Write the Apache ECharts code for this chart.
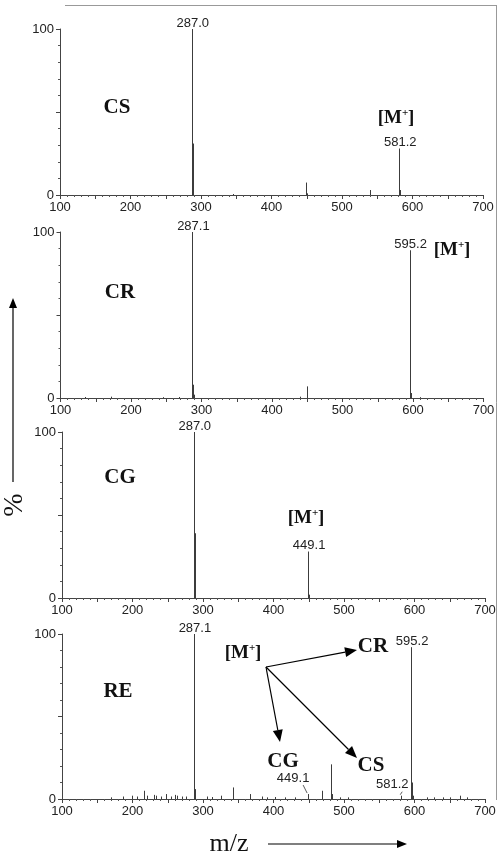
<!DOCTYPE html>
<html>
<head>
<meta charset="utf-8">
<script src="https://cdn.jsdelivr.net/npm/echarts@6/dist/echarts.min.js"></script>
<style>
  html, body { margin: 0; padding: 0; background: #fff; }
  #main { width: 502px; height: 854px; }
</style>
</head>
<body>
<div id="main"></div>
<script>
// peak lists (m/z, relative intensity %)
const csMz  = [287.0, 288.0, 289.0, 345.0, 449.1, 450.1, 539.2, 581.2, 582.2];
const csInt = [100, 31, 2, 0.6, 7.5, 1.0, 3.0, 28, 3.0];

const crMz  = [135.0, 172.0, 245.0, 268.0, 287.1, 288.1, 289.1, 440.0, 449.1, 450.1, 595.2, 596.2, 597.2, 610.0];
const crInt = [0.6, 0.8, 0.5, 0.6, 100, 8, 2, 0.8, 7, 1.2, 89, 13, 3, 0.5];

const cgMz  = [287.0, 288.0, 449.1, 450.1];
const cgInt = [100, 39, 28, 2];

const reMz  = [169.0, 187.0, 199.0, 207.0, 216.1, 221.0, 230.0, 233.0, 240.0, 248.1, 254.0, 260.0, 263.0,
               270.0, 276.0, 287.1, 288.1, 305.0, 313.0, 325.0, 343.1, 367.1, 383.0, 391.0, 402.0, 416.0,
               430.0, 449.1, 469.1, 481.1, 483.1, 495.0, 505.0, 581.2, 595.2, 596.2, 597.2, 618.0, 628.0,
               640.0, 650.0, 665.2, 675.0];
const reInt = [1.0, 1.5, 2.0, 1.5, 5.0, 2.0, 2.5, 2.0, 1.5, 3.0, 1.5, 2.5, 2.0,
               1.5, 1.5, 100, 6, 1.5, 1.2, 2.0, 7.0, 3.0, 1.5, 1.0, 1.2, 1.0,
               1.0, 3.0, 5.0, 21, 3.0, 1.0, 1.0, 2.0, 92, 10, 2.0, 1.0, 1.0,
               1.0, 1.0, 2.0, 1.0];

// which peaks carry an m/z label
const csLabelMz = [287.0, 581.2];
const crLabelMz = [287.1, 595.2];
const cgLabelMz = [287.0, 449.1];
const reLabelMz = [287.1, 449.1, 581.2, 595.2];

const xTickLabels = [100, 200, 300, 400, 500, 600, 700];
const yTickLabels = [0, 100];

const panelNames = ['CS', 'CR', 'CG', 'RE'];
const panelData = [
  { mz: csMz, inten: csInt, labels: csLabelMz },
  { mz: crMz, inten: crInt, labels: crLabelMz },
  { mz: cgMz, inten: cgInt, labels: cgLabelMz },
  { mz: reMz, inten: reInt, labels: reLabelMz }
];

// layout
const grids = [
  { left: 60,   top: 29,  width: 423, height: 166 },
  { left: 60.5, top: 232, width: 423, height: 166 },
  { left: 62,   top: 432, width: 423, height: 166 },
  { left: 62,   top: 634, width: 423, height: 165 }
];
// labels pushed aside with a leader line (panel index -> mz -> [dx, dy])
const leaderOffsets = { 3: { '449.1': [-15, -16], '581.2': [-9, -11] } };

const SERIF = '"Liberation Serif", "DejaVu Serif", serif';
const SANS = '"Liberation Sans", Arial, sans-serif';

function stickRender(params, api) {
  const x = api.value(0), y = api.value(1);
  const top = api.coord([x, y]);
  const base = api.coord([x, 0]);
  const px = Math.round(top[0]) + 0.5;
  return {
    type: 'line',
    shape: { x1: px, y1: top[1], x2: px, y2: base[1] },
    style: { stroke: '#3c3c3c', lineWidth: 1 }
  };
}

function labelRender(panelIdx) {
  return function (params, api) {
    const x = api.value(0), y = api.value(1);
    const p = api.coord([x, y]);
    const txt = x.toFixed(1);
    const off = (leaderOffsets[panelIdx] || {})[txt];
    if (off) {
      const lx = p[0] + off[0], ly = p[1] + off[1];
      return {
        type: 'group',
        children: [
          { type: 'text', style: { text: txt, x: lx, y: ly, font: '13px ' + SANS, fill: '#222', align: 'center', verticalAlign: 'middle' } },
          { type: 'line', shape: { x1: lx + 10, y1: ly + 7, x2: p[0] - 1, y2: p[1] - 1 }, style: { stroke: '#333', lineWidth: 0.8 } }
        ]
      };
    }
    return {
      type: 'text',
      style: { text: txt, x: p[0] + 1, y: p[1] - 6, font: '13px ' + SANS, fill: '#222', align: 'center', verticalAlign: 'middle' }
    };
  };
}

function arrow(x1, y1, x2, y2, head, half) {
  const dx = x2 - x1, dy = y2 - y1, L = Math.hypot(dx, dy);
  const ux = dx / L, uy = dy / L;
  const bx = x2 - ux * head, by = y2 - uy * head;
  return [
    { type: 'line', shape: { x1: x1, y1: y1, x2: bx, y2: by }, style: { stroke: '#000', lineWidth: 1.2 } },
    { type: 'polygon', shape: { points: [[x2, y2], [bx - uy * half, by + ux * half], [bx + uy * half, by - ux * half]] }, style: { fill: '#000' } }
  ];
}

// "[M+]" with a raised plus sign
function mplus(x, y) {
  return [
    { type: 'text', style: { text: '[M', x: x + 5, y: y, font: 'bold 19px ' + SERIF, fill: '#111', align: 'right', verticalAlign: 'middle' } },
    { type: 'text', style: { text: '+', x: x + 5, y: y - 5, font: 'bold 11px ' + SERIF, fill: '#111', align: 'left', verticalAlign: 'middle' } },
    { type: 'text', style: { text: ']', x: x + 11, y: y, font: 'bold 19px ' + SERIF, fill: '#111', align: 'left', verticalAlign: 'middle' } }
  ];
}

function bigText(t, x, y) {
  return { type: 'text', style: { text: t, x: x, y: y, font: 'bold 21px ' + SERIF, fill: '#111', align: 'center', verticalAlign: 'middle' } };
}

const titlePos = [[117, 108], [120, 293], [120, 478], [118, 692]];
const mplusPos = [[397, 118], [453, 250], [307, 518], [244, 653]];

let graphics = [];
panelNames.forEach((n, i) => {
  graphics.push(bigText(n, titlePos[i][0], titlePos[i][1]));
  graphics = graphics.concat(mplus(mplusPos[i][0], mplusPos[i][1]));
});
// RE panel: [M+] points to the three parent compounds
graphics.push(bigText('CR', 373, 647));
graphics.push(bigText('CG', 283, 762));
graphics.push(bigText('CS', 371, 766));
graphics = graphics.concat(arrow(266, 667, 357, 650, 12, 5));
graphics = graphics.concat(arrow(266, 667, 280, 742, 12, 5));
graphics = graphics.concat(arrow(266, 667, 357, 758, 12, 5));
// axis titles
graphics = graphics.concat(arrow(13, 482, 13, 298, 10, 4));
graphics = graphics.concat(arrow(268, 844, 407, 844, 10, 4));
graphics.push({ type: 'text', rotation: Math.PI / 2, x: 15, y: 505,
  style: { text: '%', font: '28px ' + SERIF, fill: '#111', align: 'center', verticalAlign: 'middle' } });
graphics.push({ type: 'text', style: { text: 'm/z', x: 229, y: 844, font: '26px ' + SERIF, fill: '#111', align: 'center', verticalAlign: 'middle' } });
// frame lines
graphics.push({ type: 'line', shape: { x1: 65, y1: 5.5, x2: 497, y2: 5.5 }, style: { stroke: '#999', lineWidth: 1 } });
graphics.push({ type: 'line', shape: { x1: 496.5, y1: 5.5, x2: 496.5, y2: 800 }, style: { stroke: '#999', lineWidth: 1 } });

const xAxes = grids.map((g, i) => ({
  type: 'value', gridIndex: i, min: 100, max: 700, interval: 50,
  axisLine: { show: true, onZero: false, lineStyle: { color: '#444', width: 1 } },
  axisTick: { show: true, length: 4, lineStyle: { color: '#444' } },
  minorTick: { show: true, splitNumber: 5, length: 2, lineStyle: { color: '#555' } },
  splitLine: { show: false },
  axisLabel: {
    margin: 6, fontSize: 13, fontFamily: SANS, color: '#222',
    showMinLabel: true, showMaxLabel: true,
    formatter: v => (xTickLabels.indexOf(v) >= 0 ? String(v) : '')
  }
}));

const yAxes = grids.map((g, i) => ({
  type: 'value', gridIndex: i, min: 0, max: 100, interval: 50,
  axisLine: { show: true, lineStyle: { color: '#444', width: 1 } },
  axisTick: { show: true, length: 4, lineStyle: { color: '#444' } },
  minorTick: { show: true, splitNumber: 5, length: 2, lineStyle: { color: '#555' } },
  splitLine: { show: false },
  axisLabel: {
    margin: 6, fontSize: 13, fontFamily: SANS, color: '#222',
    formatter: v => (yTickLabels.indexOf(v) >= 0 ? String(v) : '')
  }
}));

const series = [];
panelData.forEach((p, i) => {
  series.push({
    type: 'custom', xAxisIndex: i, yAxisIndex: i,
    renderItem: stickRender, silent: true,
    data: p.mz.map((m, k) => [m, p.inten[k]])
  });
  series.push({
    type: 'custom', xAxisIndex: i, yAxisIndex: i,
    renderItem: labelRender(i), silent: true,
    data: p.labels.map(m => [m, p.inten[p.mz.indexOf(m)]])
  });
});

const myChart = echarts.init(document.getElementById('main'), null, { renderer: 'canvas' });
myChart.setOption({
  animation: false,
  backgroundColor: '#fff',
  grid: grids,
  xAxis: xAxes,
  yAxis: yAxes,
  series: series,
  graphic: { elements: graphics }
});
</script>
</body>
</html>
